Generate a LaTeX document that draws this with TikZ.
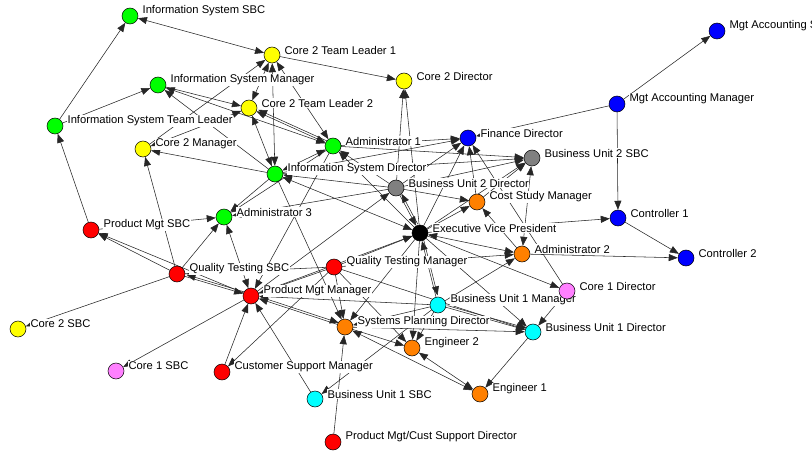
\documentclass[tikz,border=0pt]{standalone}
\usepackage{fontspec}
\setmainfont{Liberation Sans}
\usetikzlibrary{arrows.meta}
\definecolor{ngreen}{RGB}{0,255,0}
\definecolor{nyellow}{RGB}{255,255,0}
\definecolor{nred}{RGB}{255,0,0}
\definecolor{nblue}{RGB}{0,0,255}
\definecolor{ngray}{RGB}{128,128,128}
\definecolor{norange}{RGB}{255,128,0}
\definecolor{ncyan}{RGB}{0,255,255}
\definecolor{npink}{RGB}{255,128,255}
\pgfdeclarelayer{edges}
\pgfdeclarelayer{labels}
\pgfsetlayers{edges,labels,main}
\begin{document}
\begin{tikzpicture}[x=1pt,y=-1pt,
  actor/.style={circle, draw=black, line width=0.5pt, minimum size=16pt, inner sep=0pt},
  lbl/.style={anchor=west, fill=white, inner sep=0.6pt, font=\fontsize{11.2}{12}\selectfont},
  tip/.tip={Triangle[length=9pt,width=7pt]},
  tie/.style={draw=black!85, line width=0.55pt, -tip},
  tie2/.style={draw=black!85, line width=0.55pt, tip-tip},
  plainline/.style={draw=black!85, line width=0.55pt},
  par/.style={transform canvas={shift={(1.6pt,1.6pt)}}},
]
\useasboundingbox (0,0) rectangle (812,452);

% actors
\node[actor, fill=ngreen]  (issbc)  at (130,16)  {};
\node[actor, fill=nyellow] (c2tl1)  at (272,55)  {};
\node[actor, fill=nyellow] (c2d)    at (404,81)  {};
\node[actor, fill=nblue]   (masbc)  at (717,31)  {};
\node[actor, fill=nblue]   (mam)    at (617,104) {};
\node[actor, fill=ngreen]  (ism)    at (158,85)  {};
\node[actor, fill=nyellow] (c2tl2)  at (249,108) {};
\node[actor, fill=ngreen]  (istl)   at (55,126)  {};
\node[actor, fill=nyellow] (c2m)    at (143,149) {};
\node[actor, fill=ngreen]  (a1)     at (333,146) {};
\node[actor, fill=nblue]   (fd)     at (468,138) {};
\node[actor, fill=ngray]   (bu2sbc) at (532,158) {};
\node[actor, fill=ngreen]  (isd)    at (275,174) {};
\node[actor, fill=ngray]   (bu2d)   at (396,188) {};
\node[actor, fill=norange] (csm)    at (477,202) {};
\node[actor, fill=nred]    (pmsbc)  at (91,230)  {};
\node[actor, fill=ngreen]  (a3)     at (224,217) {};
\node[actor, fill=black]   (evp)    at (420,233) {};
\node[actor, fill=nblue]   (ctrl1)  at (618,218) {};
\node[actor, fill=norange] (a2)     at (522,254) {};
\node[actor, fill=nblue]   (ctrl2)  at (686,258) {};
\node[actor, fill=nred]    (qtsbc)  at (177,274) {};
\node[actor, fill=nred]    (qtm)    at (334,267) {};
\node[actor, fill=nred]    (pmm)    at (251,296) {};
\node[actor, fill=npink]   (c1d)    at (567,291) {};
\node[actor, fill=ncyan]   (bu1m)   at (438,305) {};
\node[actor, fill=norange] (spd)    at (345,327) {};
\node[actor, fill=ncyan]   (bu1d)   at (533,332) {};
\node[actor, fill=nyellow] (c2sbc)  at (18,329)  {};
\node[actor, fill=norange] (e2)     at (412,348) {};
\node[actor, fill=npink]   (c1sbc)  at (116,371) {};
\node[actor, fill=nred]    (csupm)  at (222,372) {};
\node[actor, fill=ncyan]   (bu1sbc) at (315,399) {};
\node[actor, fill=norange] (e1)     at (480,394) {};
\node[actor, fill=nred]    (pmcsd)  at (333,442) {};

% names, on white plates above the ties
\begin{pgfonlayer}{labels}
\foreach \n/\t in {issbc/Information System SBC, c2tl1/Core 2 Team Leader 1,
  c2d/Core 2 Director, masbc/Mgt Accounting SBC, mam/Mgt Accounting Manager,
  ism/Information System Manager, c2tl2/Core 2 Team Leader 2,
  istl/Information System Team Leader, c2m/Core 2 Manager, a1/Administrator 1,
  fd/Finance Director, bu2sbc/Business Unit 2 SBC, isd/Information System Director,
  bu2d/Business Unit 2 Director, csm/Cost Study Manager, pmsbc/Product Mgt SBC,
  a3/Administrator 3, evp/Executive Vice President, ctrl1/Controller 1,
  a2/Administrator 2, ctrl2/Controller 2, qtsbc/Quality Testing SBC,
  qtm/Quality Testing Manager, pmm/Product Mgt Manager, c1d/Core 1 Director,
  bu1m/Business Unit 1 Manager, spd/Systems Planning Director,
  bu1d/Business Unit 1 Director, c2sbc/Core 2 SBC, e2/Engineer 2, c1sbc/Core 1 SBC,
  csupm/Customer Support Manager, bu1sbc/Business Unit 1 SBC, e1/Engineer 1,
  pmcsd/{Product Mgt/Cust Support Director}}
  \node[lbl] (\n-l) at ([xshift=3.6pt,yshift=5pt]\n.east) {\t};
\end{pgfonlayer}

% ties
\begin{pgfonlayer}{edges}
\draw[tie] (istl) -- (issbc);
\draw[tie] (istl) -- (ism);
\draw[tie] (pmsbc) -- (istl);
\draw[tie2] (issbc) -- (c2tl1);
\draw[tie] (c2tl1) -- (c2d);
\draw[tie] (c2m) -- (c2tl1);
\draw[tie2] (c2tl1) -- (c2tl2);
\draw[tie2] (c2tl1) -- (isd);
\draw[tie2] (c2tl1) -- (a1);
\draw[tie] (isd) -- (ism);
\draw[tie2] (a1) -- (ism);
\draw[tie] (ism) -- (c2tl2);
\draw[tie2] (c2tl2) -- (a1);
\draw[tie, par] (a1) -- (c2tl2);
\draw[tie2] (c2tl2) -- (isd);
\draw[tie2] (c2m) -- (c2tl2);
\draw[tie] (isd) -- (c2m);
\draw[tie] (qtsbc) -- (c2m);
\draw[tie2] (isd) -- (a1);
\draw[tie] (a1) -- (fd);
\draw[tie] (a1) -- (bu2sbc);
\draw[tie] (isd) -- (fd);
\draw[tie] (isd) -- (bu2sbc);
\draw[tie2] (isd) -- (evp);
\draw[tie] (isd) -- (a3);
\draw[tie] (a1) -- (a3);
\draw[tie] (isd) -- (spd);
\draw[tie] (bu2d) -- (a3);
\draw[tie] (pmsbc) -- (a3);
\draw[tie] (qtsbc) -- (a3);
\draw[tie2] (pmm) -- (a3);
\draw[tie] (qtsbc) -- (pmsbc);
\draw[tie] (pmm) -- (pmsbc);
\draw[tie] (qtsbc) -- (pmm);
\draw[tie, par] (pmm) -- (qtsbc);
\draw[tie] (qtsbc) -- (c2sbc);
\draw[tie] (pmm) -- (c1sbc);
\draw[tie] (qtm) -- (csupm);
\draw[tie] (csupm) -- (pmm);
\draw[tie] (bu1sbc) -- (pmm);
\draw[tie] (spd) -- (pmm);
\draw[tie, par] (pmm) -- (spd);
\draw[tie] (bu1m) -- (pmm);
\draw[tie] (a1) -- (pmm);
\draw[tie] (qtm) -- (pmm);
\draw[plainline] (qtsbc) -- (qtm);
\draw[tie] (pmm) -- (bu2d);
\draw[tie] (qtm) -- (evp);
\draw[tie] (qtm) -- (spd);
\draw[tie] (qtm) -- (bu1d);
\draw[tie] (qtm) -- (a2);
\draw[tie] (qtm) -- (e2);
\draw[tie] (pmcsd) -- (spd);
\draw[tie] (bu1m) -- (bu1sbc);
\draw[tie] (spd) -- (e2);
\draw[tie2] (spd) -- (e1);
\draw[tie2] (e1) -- (e2);
\draw[tie] (bu1d) -- (e1);
\draw[tie] (bu1m) -- (e2);
\draw[tie] (bu1m) -- (bu1d);
\draw[tie, par] (bu1m) -- (bu1d);
\draw[tie] (bu1m) -- (evp);
\draw[tie, par] (evp) -- (bu1m);
\draw[tie] (spd) -- (bu1d);
\draw[tie] (evp) -- (bu1d);
\draw[tie] (c1d) -- (bu1d);
\draw[tie] (evp) -- (c1d);
\draw[tie] (c1d) -- (fd);
\draw[tie] (bu1m) -- (a2);
\draw[tie2] (evp) -- (a2);
\draw[tie] (a2) -- (ctrl2);
\draw[tie] (evp) -- (ctrl1);
\draw[tie] (ctrl1) -- (ctrl2);
\draw[tie] (mam) -- (ctrl1);
\draw[tie] (mam) -- (masbc);
\draw[tie] (mam) -- (fd);
\draw[tie2] (a2) -- (bu2sbc);
\draw[tie] (a2) -- (csm);
\draw[tie] (bu2d) -- (csm);
\draw[tie] (evp) -- (csm);
\draw[tie] (csm) -- (fd);
\draw[tie] (csm) -- (bu2sbc);
\draw[tie] (bu2d) -- (bu2sbc);
\draw[tie] (bu2d) -- (fd);
\draw[tie] (evp) -- (fd);
\draw[tie] (bu2d) -- (evp);
\draw[tie, par] (evp) -- (bu2d);
\draw[tie] (bu2d) -- (c2d);
\draw[tie] (evp) -- (c2d);
\draw[tie] (bu2d) -- (isd);
\draw[tie] (bu2d) -- (a1);
\draw[tie] (evp) -- (a1);
\draw[tie] (evp) -- (bu2sbc);
\draw[tie] (pmm) -- (evp);
\draw[tie] (evp) -- (spd);
\draw[tie] (bu1m) -- (spd);
\draw[tie] (evp) -- (e2);
\end{pgfonlayer}
\end{tikzpicture}
\end{document}
